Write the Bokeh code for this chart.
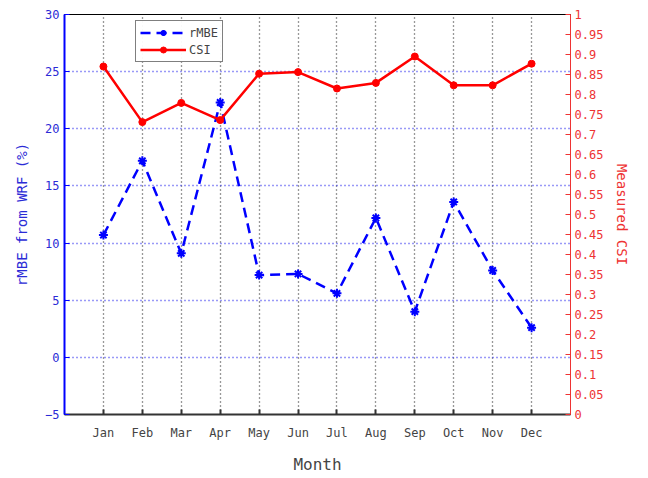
from bokeh.plotting import figure
from bokeh.models import Range1d, LinearAxis, FixedTicker, Legend, LegendItem
from bokeh.embed import file_html
from bokeh.resources import INLINE

months = ["Jan", "Feb", "Mar", "Apr", "May", "Jun", "Jul", "Aug", "Sep", "Oct", "Nov", "Dec"]
month_idx = list(range(1, 13))
rmbe = [10.7, 17.2, 9.1, 22.3, 7.2, 7.3, 5.6, 12.2, 4.0, 13.6, 7.6, 2.6]
csi = [0.870, 0.731, 0.779, 0.736, 0.852, 0.856, 0.815, 0.829, 0.895, 0.823, 0.823, 0.877]
left_ticks = [-5, 0, 5, 10, 15, 20, 25, 30]
right_ticks = [i * 0.05 for i in range(21)]
right_labels = ["0", "0.05", "0.1", "0.15", "0.2", "0.25", "0.3", "0.35", "0.4", "0.45", "0.5",
                "0.55", "0.6", "0.65", "0.7", "0.75", "0.8", "0.85", "0.9", "0.95", "1"]

FONT = "DejaVu Sans Mono"
BLUE = "#0000ff"
BLUE_T = "#2b2bd6"
RED = "#ff0000"
RED_T = "#ee3333"

p = figure(output_backend="svg", toolbar_location=None,
           frame_width=506, frame_height=400,
           min_border_left=64, min_border_top=14, min_border_right=70, min_border_bottom=56,
           x_range=Range1d(0, 13), y_range=Range1d(-5, 30))
p.extra_y_ranges = {"csi": Range1d(0, 1)}

p.outline_line_color = "black"
p.outline_line_width = 1
p.background_fill_color = "white"
p.border_fill_color = "white"

# grids
p.xgrid.ticker = FixedTicker(ticks=month_idx)
p.xgrid.grid_line_color = "#333333"
p.xgrid.grid_line_dash = "1 3"
p.xgrid.grid_line_width = 1.3
p.ygrid.ticker = FixedTicker(ticks=left_ticks)
p.ygrid.grid_line_color = "#3333ee"
p.ygrid.grid_line_dash = "1 3"
p.ygrid.grid_line_width = 1.3

# x axis
xa = p.xaxis[0]
xa.ticker = FixedTicker(ticks=month_idx)
xa.major_label_overrides = {m: n for m, n in zip(month_idx, months)}
xa.axis_label = "Month"
xa.axis_label_text_font = FONT
xa.axis_label_text_font_style = "normal"
xa.axis_label_text_font_size = "16px"
xa.axis_label_standoff = 12
xa.major_label_text_font = FONT
xa.major_label_text_font_size = "12px"
xa.major_label_standoff = 11
xa.major_tick_in = 5
xa.major_tick_out = 0
xa.minor_tick_line_color = None
xa.axis_line_color = "#333333"
xa.axis_line_width = 2
xa.major_tick_line_color = "#333333"
xa.major_tick_line_width = 2

# left axis
ya = p.yaxis[0]
ya.ticker = FixedTicker(ticks=left_ticks)
ya.axis_label = "rMBE from WRF (%)"
ya.axis_label_text_font = FONT
ya.axis_label_text_font_style = "normal"
ya.axis_label_text_font_size = "14px"
ya.axis_label_text_color = BLUE_T
ya.axis_label_standoff = 12
ya.major_label_text_font = FONT
ya.major_label_text_font_size = "12px"
ya.major_label_text_color = BLUE_T
ya.axis_line_color = BLUE
ya.axis_line_width = 2
ya.major_tick_line_color = BLUE
ya.major_tick_in = 5
ya.major_tick_out = 0
ya.minor_tick_line_color = None
ya.major_label_standoff = 5

# right axis
ra = LinearAxis(y_range_name="csi", ticker=FixedTicker(ticks=right_ticks))
ra.major_label_overrides = {t: l for t, l in zip(right_ticks, right_labels)}
ra.axis_label = "Measured CSI"
ra.axis_label_text_font = FONT
ra.axis_label_text_font_style = "normal"
ra.axis_label_text_font_size = "14px"
ra.axis_label_text_color = RED_T
ra.axis_label_standoff = 8
ra.major_label_text_font = FONT
ra.major_label_text_font_size = "12px"
ra.major_label_text_color = RED_T
ra.axis_line_color = RED_T
ra.axis_line_width = 1
ra.major_tick_line_color = RED_T
ra.major_tick_in = 5
ra.major_tick_out = 0
ra.minor_tick_line_color = None
ra.major_label_standoff = 4
p.add_layout(ra, "right")

# series
l1 = p.line(month_idx, rmbe, line_color=BLUE, line_width=2.5, line_dash="10 6")
s1 = p.scatter(month_idx, rmbe, marker="asterisk", size=9, line_color=BLUE, line_width=2)
l2 = p.line(month_idx, csi, y_range_name="csi", line_color=RED, line_width=2.5)
s2 = p.scatter(month_idx, csi, y_range_name="csi", marker="circle", size=7,
               fill_color=RED, line_color=RED)

legend = Legend(items=[LegendItem(label="rMBE", renderers=[l1, s1]),
                       LegendItem(label="CSI", renderers=[l2, s2])],
                location=(71, 352))
legend.border_line_color = "black"
legend.border_line_width = 1
legend.label_text_font = FONT
legend.label_text_font_size = "12px"
legend.glyph_width = 46
legend.glyph_height = 15
legend.label_standoff = 3
legend.spacing = 2
legend.padding = 4
legend.margin = 0
legend.label_height = 15
p.add_layout(legend, "center")

open("out.html", "w").write(file_html(p, INLINE))
